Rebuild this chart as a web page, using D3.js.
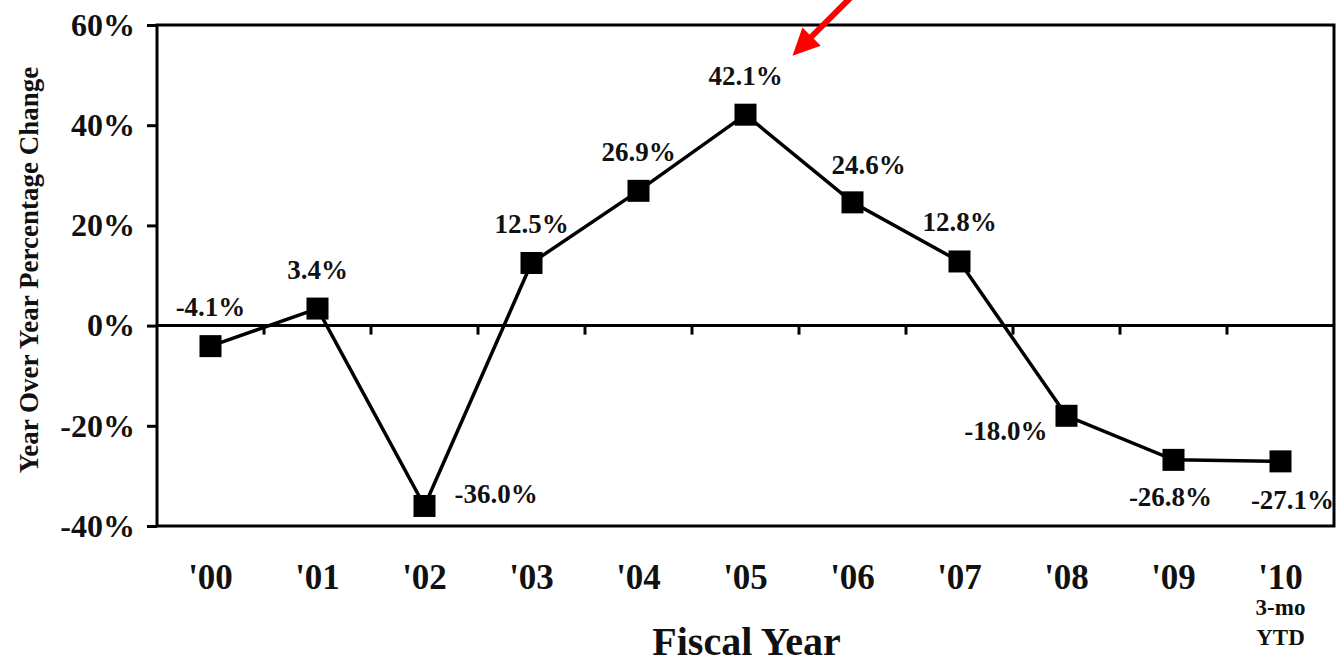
<!DOCTYPE html>
<html>
<head>
<meta charset="utf-8">
<script src="https://cdn.jsdelivr.net/npm/d3@7"></script>
<style>
  html, body { margin: 0; padding: 0; background: #fff; }
  svg { display: block; }
  text { font-family: "Liberation Serif", "Times New Roman", serif; font-weight: bold; fill: #111; }
</style>
</head>
<body>
<svg id="chart" width="1336" height="659"></svg>
<script>
// Fiscal years and year-over-year percentage change
const fiscalYears = ["'00", "'01", "'02", "'03", "'04", "'05", "'06", "'07", "'08", "'09", "'10"];
const pctChange = [-4.1, 3.4, -36.0, 12.5, 26.9, 42.1, 24.6, 12.8, -18.0, -26.8, -27.1];
const valueLabels = ["-4.1%", "3.4%", "-36.0%", "12.5%", "26.9%", "42.1%", "24.6%", "12.8%", "-18.0%", "-26.8%", "-27.1%"];
const labelPlacement = ["above", "above", "right", "above", "above", "above", "aboveRight", "above", "left", "below", "belowRight"];
const yTicks = [-40, -20, 0, 20, 40, 60];
const lastYearNote = ["3-mo", "YTD"];
const yTitle = "Year Over Year Percentage Change";
const xTitle = "Fiscal Year";
const highlightYear = "'05";

const svg = d3.select("#chart");
const plot = { left: 157, top: 25, right: 1334, bottom: 526 };

const x = d3.scaleBand().domain(fiscalYears).range([plot.left, plot.right]).padding(0);
const cx = d => x(d) + x.bandwidth() / 2;
const y = d3.scaleLinear().domain([-40, 60]).range([plot.bottom, plot.top]);

// Plot frame
svg.append("rect")
  .attr("x", plot.left).attr("y", plot.top)
  .attr("width", plot.right - plot.left).attr("height", plot.bottom - plot.top)
  .attr("fill", "none").attr("stroke", "#000").attr("stroke-width", 3);

// Y axis with percentage ticks
const yAxis = svg.append("g")
  .attr("transform", `translate(${plot.left},0)`)
  .call(d3.axisLeft(y).tickValues(yTicks).tickSize(10).tickPadding(12).tickFormat(d => d + "%"));
yAxis.select(".domain").remove();
yAxis.selectAll(".tick line").attr("stroke", "#000").attr("stroke-width", 3);
yAxis.selectAll(".tick text").style("font-size", "32px").attr("fill", "#111")
  .style("font-family", "'Liberation Serif', serif").style("font-weight", "bold");

// Zero baseline with category boundary ticks
svg.append("line")
  .attr("x1", plot.left).attr("x2", plot.right)
  .attr("y1", y(0)).attr("y2", y(0))
  .attr("stroke", "#000").attr("stroke-width", 3);
svg.append("g").selectAll("line")
  .data(fiscalYears.slice(1))
  .join("line")
  .attr("x1", d => x(d)).attr("x2", d => x(d))
  .attr("y1", y(0)).attr("y2", y(0) + 9)
  .attr("stroke", "#000").attr("stroke-width", 3);

// Category labels below the frame
svg.append("g").selectAll("text")
  .data(fiscalYears)
  .join("text")
  .attr("x", d => cx(d))
  .attr("y", 589)
  .attr("text-anchor", "middle")
  .style("font-size", "35px")
  .text(d => d);

// Note under the last (partial) year
svg.append("g").selectAll("text")
  .data(lastYearNote)
  .join("text")
  .attr("x", cx(fiscalYears[fiscalYears.length - 1]))
  .attr("y", (d, i) => 615 + i * 30)
  .attr("text-anchor", "middle")
  .style("font-size", "23px")
  .text(d => d);

// Axis titles
svg.append("text")
  .attr("transform", `translate(38, 270) rotate(-90)`)
  .attr("text-anchor", "middle")
  .style("font-size", "27px")
  .text(yTitle);

svg.append("text")
  .attr("x", (plot.left + plot.right) / 2 + 1)
  .attr("y", 655)
  .attr("text-anchor", "middle")
  .style("font-size", "40px")
  .text(xTitle);

// Series line and square markers
const points = fiscalYears.map((d, i) => ({ year: d, value: pctChange[i], label: valueLabels[i], place: labelPlacement[i] }));

svg.append("path")
  .datum(points)
  .attr("fill", "none")
  .attr("stroke", "#000")
  .attr("stroke-width", 3.5)
  .attr("d", d3.line().x(d => cx(d.year)).y(d => y(d.value)));

const markerSize = 22;
svg.append("g").selectAll("rect")
  .data(points)
  .join("rect")
  .attr("x", d => cx(d.year) - markerSize / 2)
  .attr("y", d => y(d.value) - markerSize / 2)
  .attr("width", markerSize).attr("height", markerSize)
  .attr("fill", "#000");

// Value labels around each marker
const placeOffset = {
  above:      { dx: 0,   dy: -30, anchor: "middle" },
  aboveRight: { dx: 16,  dy: -28, anchor: "middle" },
  right:      { dx: 30,  dy: -3,  anchor: "start" },
  left:       { dx: -19, dy: 24,  anchor: "end" },
  below:      { dx: -3,  dy: 46,  anchor: "middle" },
  belowRight: { dx: 12,  dy: 48,  anchor: "middle" }
};
svg.append("g").selectAll("text")
  .data(points)
  .join("text")
  .attr("x", d => cx(d.year) + placeOffset[d.place].dx)
  .attr("y", d => y(d.value) + placeOffset[d.place].dy)
  .attr("text-anchor", d => placeOffset[d.place].anchor)
  .style("font-size", "27px")
  .text(d => d.label);

// Red arrow pointing at the peak year's label
const peak = points.find(p => p.year === highlightYear);
const tip = [cx(peak.year) + 47, y(peak.value) - 59];
const u = [-Math.SQRT1_2, Math.SQRT1_2];
const headLen = 27, headHalf = 13, shaftLen = 95;
const base = [tip[0] - u[0] * headLen, tip[1] - u[1] * headLen];
const start = [tip[0] - u[0] * shaftLen, tip[1] - u[1] * shaftLen];
const perp = [-u[1], u[0]];
svg.append("line")
  .attr("x1", start[0]).attr("y1", start[1])
  .attr("x2", base[0] + u[0] * 2).attr("y2", base[1] + u[1] * 2)
  .attr("stroke", "#ff0000").attr("stroke-width", 6);
svg.append("polygon")
  .attr("points", [
    tip,
    [base[0] + perp[0] * headHalf, base[1] + perp[1] * headHalf],
    [base[0] - perp[0] * headHalf, base[1] - perp[1] * headHalf]
  ].map(p => p.join(",")).join(" "))
  .attr("fill", "#ff0000");
</script>
</body>
</html>
